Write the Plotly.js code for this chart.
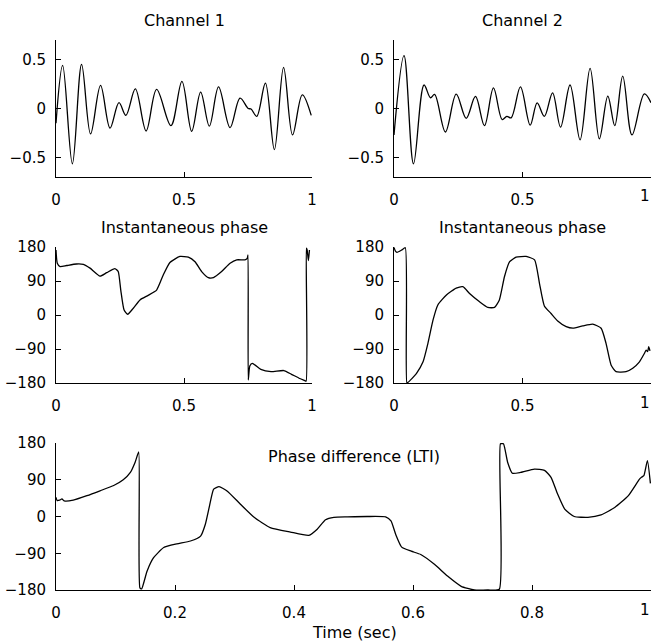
<!DOCTYPE html>
<html><head><meta charset="utf-8">
<script src="https://cdn.plot.ly/plotly-3.0.1.min.js"></script>
<style>html,body{margin:0;padding:0;background:#fff;}#chart{width:652px;height:643px;}</style>
</head><body><div id="chart"></div>
<script>
// ---- Channel 1 (time in s, amplitude) ----
const ch1Time = [0, 0.026, 0.064, 0.10, 0.135, 0.174, 0.211, 0.246, 0.273, 0.31, 0.352, 0.393, 0.449, 0.492, 0.53, 0.565, 0.599, 0.635, 0.68, 0.719, 0.751, 0.762, 0.784, 0.818, 0.853, 0.889, 0.924, 0.962, 0.997];
const ch1Value = [-0.15, 0.44, -0.565, 0.45, -0.26, 0.236, -0.2, 0.06, -0.07, 0.2, -0.23, 0.195, -0.175, 0.277, -0.233, 0.168, -0.18, 0.22, -0.195, 0.106, 0.0, -0.005, -0.08, 0.26, -0.42, 0.42, -0.27, 0.14, -0.07];

// ---- Channel 2 ----
const ch2Time = [0, 0.039, 0.076, 0.117, 0.142, 0.158, 0.2, 0.242, 0.281, 0.317, 0.352, 0.387, 0.421, 0.439, 0.456, 0.492, 0.53, 0.557, 0.585, 0.617, 0.648, 0.685, 0.724, 0.763, 0.799, 0.832, 0.859, 0.89, 0.926, 0.974, 1.0];
const ch2Value = [-0.27, 0.54, -0.565, 0.24, 0.11, 0.144, -0.24, 0.147, -0.1, 0.123, -0.175, 0.21, -0.113, -0.08, -0.095, 0.22, -0.17, 0.058, -0.08, 0.16, -0.19, 0.24, -0.32, 0.41, -0.31, 0.127, -0.175, 0.33, -0.27, 0.15, 0.06];

// ---- Instantaneous phase, channel 1 (degrees) ----
const ph1Time = [0, 0.005, 0.016, 0.042, 0.08, 0.107, 0.133, 0.172, 0.198, 0.23, 0.243, 0.253, 0.266, 0.28, 0.302, 0.328, 0.36, 0.393, 0.419, 0.445, 0.484, 0.517, 0.543, 0.569, 0.595, 0.615, 0.647, 0.68, 0.706, 0.738, 0.747, 0.750, 0.751, 0.757, 0.767, 0.8, 0.84, 0.89, 0.92, 0.952, 0.97, 0.977, 0.978, 0.981, 0.986, 0.99];
const ph1Value = [172, 137, 128, 131, 135, 134, 124, 103, 112, 123, 115, 66, 13, 2, 18, 40, 52, 66, 106, 139, 155, 153, 141, 115, 99, 99, 115, 137, 146, 146, 150, 159, -172, -135, -128, -144, -150, -147, -157, -168, -173, -175, 177, 172, 144, 172];

// ---- Instantaneous phase, channel 2 ----
const ph2Time = [0, 0.005, 0.012, 0.02, 0.03, 0.044, 0.05, 0.055, 0.087, 0.113, 0.132, 0.152, 0.171, 0.204, 0.242, 0.268, 0.294, 0.333, 0.365, 0.391, 0.41, 0.43, 0.45, 0.475, 0.514, 0.547, 0.566, 0.585, 0.611, 0.637, 0.67, 0.696, 0.734, 0.773, 0.806, 0.825, 0.845, 0.864, 0.903, 0.929, 0.955, 0.974, 0.981, 0.987, 0.991, 0.996];
const ph2Value = [179, 170, 166, 168, 172, 178, -179, -178, -155, -124, -75, -13, 27, 53, 71, 75, 57, 35, 20, 20, 40, 102, 141, 153, 155, 146, 84, 24, 4, -16, -31, -35, -29, -24, -35, -75, -133, -150, -150, -141, -124, -102, -93, -97, -84, -95];

// ---- Phase difference (LTI) ----
const pdTime = [0, 0.002, 0.006, 0.01, 0.014, 0.029, 0.052, 0.074, 0.097, 0.113, 0.125, 0.133, 0.139, 0.141, 0.144, 0.153, 0.164, 0.181, 0.203, 0.226, 0.243, 0.251, 0.258, 0.265, 0.274, 0.288, 0.31, 0.333, 0.36, 0.394, 0.425, 0.439, 0.453, 0.467, 0.49, 0.523, 0.554, 0.563, 0.571, 0.581, 0.597, 0.613, 0.636, 0.658, 0.681, 0.703, 0.726, 0.745, 0.747, 0.752, 0.759, 0.767, 0.781, 0.804, 0.821, 0.832, 0.843, 0.855, 0.871, 0.894, 0.916, 0.939, 0.962, 0.981, 0.984, 0.988, 0.994, 0.999];
const pdValue = [47, 39, 40, 43, 38, 40, 51, 63, 76, 90, 108, 133, 158, -175, -177, -134, -101, -76, -67, -60, -48, -19, 26, 67, 73, 62, 30, -2, -27, -38, -46, -31, -8, -2, -1, 0, -1, -11, -44, -75, -85, -93, -117, -146, -171, -180, -180, -178, 178, 178, 133, 106, 108, 116, 113, 96, 55, 18, 0, -2, 4, 22, 51, 92, 96, 100, 137, 81];

// ---- Tick values / labels ----
const ampTicks = [-0.5, 0, 0.5];
const ampTickText = ['\u22120.5', '0', '0.5'];
const phaseTicks = [-180, -90, 0, 90, 180];
const phaseTickText = ['\u2212180', '\u221290', '0', '90', '180'];
const shortTimeTicks = [0, 0.5, 1];
const shortTimeTickText = ['0', '0.5', '1'];
// right-edge panels: the "1" label at the page edge is placed right-aligned
const edgeTimeTickText = ['0', '0.5', ''];
const longTimeTicks = [0, 0.2, 0.4, 0.6, 0.8, 1];
const longTimeTickText = ['0', '0.2', '0.4', '0.6', '0.8', ''];
const edgeLabel = '1';

const FONT = 'DejaVu Sans, Liberation Sans, Arial, sans-serif';
const lineStyle = {color: '#000', width: 1.3};

function tr(x, y, xa, ya, shape, smooth) {
  return {x: x, y: y, xaxis: xa, yaxis: ya, type: 'scatter', mode: 'lines',
          line: Object.assign({shape: shape, smoothing: smooth}, lineStyle),
          hoverinfo: 'skip', showlegend: false, cliponaxis: false};
}
const data = [
  tr(ch1Time, ch1Value, 'x', 'y', 'spline', 1.0),
  tr(ch2Time, ch2Value, 'x2', 'y2', 'spline', 1.0),
  tr(ph1Time, ph1Value, 'x3', 'y3', 'spline', 0.5),
  tr(ph2Time, ph2Value, 'x4', 'y4', 'spline', 0.5),
  tr(pdTime, pdValue, 'x5', 'y5', 'spline', 0.5)
];

function ax(domain, range, tv, tt, anchor, standoff) {
  return {domain: domain, range: range, tickvals: tv, ticktext: tt, anchor: anchor,
          showline: true, linecolor: '#000', linewidth: 1, mirror: false,
          ticks: 'inside', ticklen: 5, tickcolor: '#000', tickwidth: 1,
          showgrid: false, zeroline: false, fixedrange: true,
          ticklabeloverflow: 'allow', ticklabelstandoff: standoff,
          tickfont: {family: FONT, size: 15, color: '#000'}};
}
const W = 652, H = 643;
const xd = (a, b) => [a / W, b / W];
const yd = (top, bot) => [1 - bot / H, 1 - top / H];

const titleAnn = [
  {text: 'Channel 1', x: 184 / W, y: 1 - 21 / H},
  {text: 'Channel 2', x: 522.5 / W, y: 1 - 21 / H},
  {text: 'Instantaneous phase', x: 184 / W, y: 1 - 227 / H},
  {text: 'Instantaneous phase', x: 522.5 / W, y: 1 - 227 / H},
  {text: 'Phase difference (LTI)', x: 354 / W, y: 1 - 456 / H},
  {text: 'Time (sec)', x: 354 / W, y: 1 - 632 / H}
].map(a => Object.assign({xref: 'paper', yref: 'paper', showarrow: false,
      xanchor: 'center', yanchor: 'middle',
      font: {family: FONT, size: 16, color: '#000'}}, a));

const edgeAnn = [
  {xref: 'x2', y: 1 - 196 / H},
  {xref: 'x4', y: 1 - 403 / H},
  {xref: 'x5', y: 1 - 610 / H}
].map(a => Object.assign({text: edgeLabel, x: 1, yref: 'paper', showarrow: false,
      xanchor: 'right', yanchor: 'middle', xshift: 1,
      font: {family: FONT, size: 15, color: '#000'}}, a));

const layout = {
  width: W, height: H,
  margin: {l: 0, r: 0, t: 0, b: 0},
  paper_bgcolor: '#fff', plot_bgcolor: '#fff',
  showlegend: false,
  xaxis:  ax(xd(56, 312), [0, 1], shortTimeTicks, shortTimeTickText, 'y', 9),
  yaxis:  ax(yd(40, 177), [-0.7, 0.7], ampTicks, ampTickText, 'x', 6),
  xaxis2: ax(xd(394, 651), [0, 1], shortTimeTicks, edgeTimeTickText, 'y2', 9),
  yaxis2: ax(yd(40, 177), [-0.7, 0.7], ampTicks, ampTickText, 'x2', 6),
  xaxis3: ax(xd(56, 312), [0, 1], shortTimeTicks, shortTimeTickText, 'y3', 9),
  yaxis3: ax(yd(247, 383), [-180, 180], phaseTicks, phaseTickText, 'x3', 6),
  xaxis4: ax(xd(394, 651), [0, 1], shortTimeTicks, edgeTimeTickText, 'y4', 9),
  yaxis4: ax(yd(247, 383), [-180, 180], phaseTicks, phaseTickText, 'x4', 6),
  xaxis5: ax(xd(56, 651), [0, 1], longTimeTicks, longTimeTickText, 'y5', 9),
  yaxis5: ax(yd(443, 590), [-180, 180], phaseTicks, phaseTickText, 'x5', 6),
  annotations: titleAnn.concat(edgeAnn)
};

Plotly.newPlot('chart', data, layout, {staticPlot: true, displayModeBar: false});
</script>
</body></html>
